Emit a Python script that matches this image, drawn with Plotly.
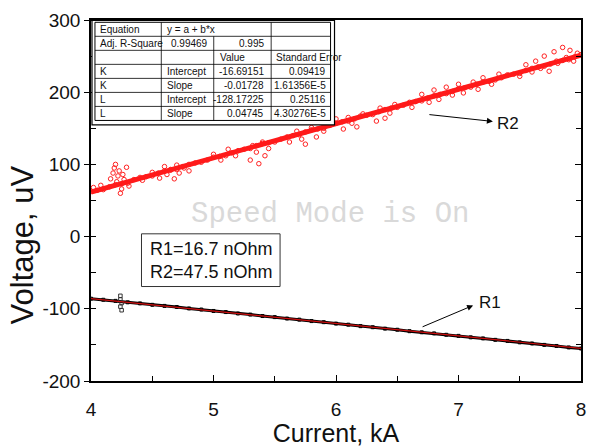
import plotly.graph_objects as go

# ---------------- data ----------------
# R2 measured points (red open circles): band points along the trend + scattered points
r2_x = [4.0, 4.1, 4.2, 4.3, 4.4, 4.5, 4.6, 4.7, 4.8, 4.9, 5.0, 5.1, 5.2, 5.3, 5.4, 5.5, 5.6, 5.7, 5.8, 5.9,
        6.0, 6.1, 6.2, 6.3, 6.4, 6.5, 6.6, 6.7, 6.8, 6.9, 7.0, 7.1, 7.2, 7.3, 7.4, 7.5, 7.6, 7.7, 7.8, 7.9, 8.0,
        4.05, 4.15, 4.25, 4.35, 4.45, 4.55, 4.65, 4.75, 4.85, 4.95, 5.05, 5.15, 5.25, 5.35, 5.45, 5.55, 5.65,
        5.75, 5.85, 5.95, 6.05, 6.15, 6.25, 6.35, 6.45, 6.55, 6.65, 6.75, 6.85, 6.95, 7.05, 7.15, 7.25, 7.35,
        7.45, 7.55, 7.65, 7.75, 7.85, 7.95,
        4.02, 4.08, 4.16, 4.18, 4.19, 4.2, 4.21, 4.22, 4.23, 4.24, 4.25, 4.26, 4.27, 4.29, 4.31,
        4.42, 4.5, 4.56, 4.6, 4.62, 4.65, 4.68, 4.7, 4.72, 4.76, 4.8,
        5.0, 5.06, 5.12, 5.18, 5.3, 5.32, 5.35, 5.37, 5.4, 5.42, 5.45,
        5.62, 5.68, 5.72, 5.75, 5.8, 5.84, 5.9,
        6.0, 6.06, 6.1, 6.13, 6.17, 6.22, 6.33, 6.36, 6.4, 6.44, 6.48,
        6.62, 6.7, 6.76, 6.8, 6.84, 6.9, 6.95, 7.0, 7.04,
        7.12, 7.16, 7.2, 7.27, 7.33,
        7.5, 7.55, 7.6, 7.63, 7.67, 7.7, 7.74, 7.78, 7.81, 7.85, 7.88, 7.91, 7.94, 7.97]
r2_y = [63, 65, 72, 74, 82, 84, 91, 93, 100, 103, 110, 112, 119, 122, 129, 131, 138, 141, 148, 150,
        157, 160, 167, 169, 176, 179, 186, 188, 195, 198, 205, 207, 214, 217, 224, 226, 233, 236, 243, 245, 252,
        64, 69, 73, 79, 83, 88, 92, 97, 102, 106, 111, 116, 121, 126, 130, 135, 140,
        145, 149, 154, 159, 163, 168, 173, 178, 182, 187, 192, 197, 201, 206, 211, 215, 220,
        225, 230, 235, 239, 244, 249,
        68, 71, 80, 88, 95, 100, 76, 84, 91, 60, 66, 86, 79, 96, 70,
        78, 89, 81, 97, 86, 93, 80, 99, 88, 95, 91,
        114, 106, 121, 112, 106, 126, 117, 101, 131, 112, 122,
        131, 146, 135, 128, 151, 138, 146,
        163, 149, 165, 157, 152, 170, 160, 178, 164, 171, 183,
        179, 197, 186, 203, 190, 207, 196, 211, 199,
        214, 204, 220, 211, 225,
        222, 238, 228, 243, 233, 250, 229, 256, 240, 262, 248, 258, 243, 254]

# R1 measured points (black)
r1_x = [4.0, 4.1, 4.2, 4.3, 4.4, 4.5, 4.6, 4.7, 4.8, 4.9, 5.0, 5.1, 5.2, 5.3, 5.4, 5.5, 5.6, 5.7, 5.8, 5.9,
        6.0, 6.1, 6.2, 6.3, 6.4, 6.5, 6.6, 6.7, 6.8, 6.9, 7.0, 7.1, 7.2, 7.3, 7.4, 7.5, 7.6, 7.7, 7.8, 7.9, 8.0]
r1_y = [-86, -87.5, -89, -91, -92.5, -94.5, -96, -97.5, -99.5, -101, -103, -104.5, -106.5, -108, -110,
        -111.5, -113.5, -115, -117, -118.5, -120.5, -122, -124, -125.5, -127.5, -129, -131, -132.5, -134,
        -136, -137.5, -139.5, -141, -143, -144.5, -146.5, -148, -150, -151.5, -153.5, -155]
r1_cluster_x = [4.24, 4.24, 4.25, 4.24, 4.25]
r1_cluster_y = [-82, -87, -92, -97, -102]

# linear fits (end points)
fit_x = [4.0, 8.0]
fit_r2_y = [61.6, 251.4]
fit_r1_y = [-85.8, -154.9]

# fit table
table_rows = [
    ["K", "Intercept", "-16.69151", "0.09419"],
    ["K", "Slope", "-0.01728", "1.61356E-5"],
    ["L", "Intercept", "-128.17225", "0.25116"],
    ["L", "Slope", "0.04745", "4.30276E-5"],
]
adj_r2 = ["0.99469", "0.995"]

x_ticks = [4, 5, 6, 7, 8]
y_ticks = [-200, -100, 0, 100, 200, 300]

# ---------------- geometry helpers (pixel -> paper) ----------------
W, H = 590, 447
L, R, T, B = 91, 586, 20, 383


def px(x):
    return (x - L) / (R - L)


def py(y):
    return (B - y) / (B - T)


FONT = "Arial, Liberation Sans, sans-serif"

fig = go.Figure()

fig.add_trace(go.Scatter(x=fit_x, y=fit_r2_y, mode="lines", yaxis="y2",
                         line=dict(color="#ff1a1a", width=5), hoverinfo="skip"))
fig.add_trace(go.Scatter(x=r2_x, y=r2_y, mode="markers",
                         marker=dict(symbol="circle-open", size=4.5, color="#ff2020",
                                     line=dict(width=1, color="#ff2020"))))
fig.add_trace(go.Scatter(x=r1_x, y=r1_y, mode="lines+markers",
                         line=dict(color="black", width=3),
                         marker=dict(symbol="square-open", size=3, color="black")))
fig.add_trace(go.Scatter(x=r1_cluster_x, y=r1_cluster_y, mode="markers",
                         marker=dict(symbol="square-open", size=3.5, color="#333333",
                                     line=dict(width=1))))
fig.add_trace(go.Scatter(x=fit_x, y=fit_r1_y, mode="lines",
                         line=dict(color="#d01010", width=1.2), hoverinfo="skip"))

shapes = []
annotations = []

# table frame
shapes.append(dict(type="rect", xref="paper", yref="paper", x0=px(92), x1=px(337),
                   y0=py(125.5), y1=py(20.5), line=dict(color="black", width=1.2),
                   fillcolor="white", layer="above"))
row_top = 22.3
row_h = 14.1
c0, c1, c2, c3, c4 = 95, 162, 215, 273, 333
rows_y = [row_top + i * row_h for i in range(8)]
shapes.append(dict(type="rect", xref="paper", yref="paper", x0=px(c0), x1=px(c4),
                   y0=py(rows_y[7]), y1=py(rows_y[0]), line=dict(color="black", width=1)))
for yy in rows_y[1:7]:
    shapes.append(dict(type="line", xref="paper", yref="paper", x0=px(c0), x1=px(c4),
                       y0=py(yy), y1=py(yy), line=dict(color="black", width=0.8)))
for cx in [c1, c3]:
    shapes.append(dict(type="line", xref="paper", yref="paper", x0=px(cx), x1=px(cx),
                       y0=py(rows_y[7]), y1=py(rows_y[0]), line=dict(color="black", width=0.8)))
shapes.append(dict(type="line", xref="paper", yref="paper", x0=px(c2), x1=px(c2),
                   y0=py(rows_y[7]), y1=py(rows_y[1]), line=dict(color="black", width=0.8)))


def cell(text, x, row, anchor="left"):
    yc = rows_y[row] + row_h / 2
    annotations.append(dict(text=text, x=px(x), y=py(yc), xref="paper", yref="paper",
                            xanchor=anchor, yanchor="middle", showarrow=False,
                            font=dict(family=FONT, size=10, color="#111")))


cell("Equation", c0 + 3, 0)
cell("y = a + b*x", c1 + 4, 0)
cell("Adj. R-Square", c0 + 3, 1)
cell(adj_r2[0], c2 - 4, 1, "right")
cell(adj_r2[1], c3 - 5, 1, "right")
cell("Value", c2 + 4, 2)
cell("Standard Error", c3 + 3, 2)
for i, r in enumerate(table_rows):
    cell(r[0], c0 + 3, 3 + i)
    cell(r[1], c1 + 4, 3 + i)
    cell(r[2], c3 - 5, 3 + i, "right")
    cell(r[3], c4 - 3, 3 + i, "right")

# R1/R2 text box
shapes.append(dict(type="rect", xref="paper", yref="paper", x0=px(142), x1=px(282),
                   y0=py(288), y1=py(235), line=dict(color="#333", width=1), fillcolor="white"))
annotations.append(dict(text="R1=16.7 nOhm<br>R2=47.5 nOhm", x=px(149), y=py(261.5),
                        xref="paper", yref="paper", xanchor="left", yanchor="middle",
                        align="left", showarrow=False,
                        font=dict(family=FONT, size=18, color="#111")))

# watermark
annotations.append(dict(text="Speed Mode is On", x=px(332), y=py(216), xref="paper", yref="paper",
                        xanchor="center", yanchor="middle", showarrow=False,
                        font=dict(family="Liberation Mono, Courier New, monospace", size=29,
                                  color="#d9d9d9")))

# arrows and labels
annotations.append(dict(text="", x=px(497), y=py(122), xref="paper", yref="paper",
                        ax=-65, ay=-7, showarrow=True, arrowhead=2, arrowsize=1.2,
                        arrowwidth=1, arrowcolor="black"))
annotations.append(dict(text="R2", x=px(499), y=py(124), xref="paper", yref="paper",
                        xanchor="left", yanchor="middle", showarrow=False,
                        font=dict(family=FONT, size=17, color="#111")))
annotations.append(dict(text="", x=px(477), y=py(307), xref="paper", yref="paper",
                        ax=-52, ay=22, showarrow=True, arrowhead=2, arrowsize=1.2,
                        arrowwidth=1, arrowcolor="black"))
annotations.append(dict(text="R1", x=px(481), y=py(304), xref="paper", yref="paper",
                        xanchor="left", yanchor="middle", showarrow=False,
                        font=dict(family=FONT, size=17, color="#111")))

# y axis title (placed as rotated text)
annotations.append(dict(text="Voltage, uV", x=px(22), y=py(246), xref="paper", yref="paper",
                        xanchor="center", yanchor="middle", textangle=-90, showarrow=False,
                        font=dict(family=FONT, size=31, color="#111")))

fig.update_layout(
    width=W, height=H,
    margin=dict(l=L, r=W - R, t=T, b=H - B, pad=0),
    paper_bgcolor="white", plot_bgcolor="white",
    showlegend=False,
    shapes=shapes, annotations=annotations,
    xaxis=dict(range=[4, 8], tickvals=x_ticks, ticktext=[str(v) for v in x_ticks],
               ticks="inside", ticklen=6, tickwidth=1.2, tickcolor="black",
               minor=dict(dtick=0.5, tick0=4, ticks="inside", ticklen=5, tickwidth=1.2,
                          tickcolor="black", showgrid=False),
               showline=True, linecolor="black", linewidth=1.5, mirror=True,
               showgrid=False, zeroline=False, ticklabelstandoff=10,
               tickfont=dict(family=FONT, size=19, color="#111"),
               title=dict(text="Current, kA", font=dict(family=FONT, size=25, color="#111"),
                          standoff=6)),
    yaxis=dict(range=[-200, 300], tickvals=y_ticks, ticktext=[str(v) for v in y_ticks],
               ticks="outside", ticklen=5, tickwidth=1.2, tickcolor="black",
               minor=dict(dtick=50, tick0=0, ticks="inside", ticklen=5, tickwidth=1.2,
                          tickcolor="black", showgrid=False),
               showline=True, linecolor="black", linewidth=1.5, mirror=True,
               showgrid=False, zeroline=False,
               tickfont=dict(family=FONT, size=19, color="#111")),
    yaxis2=dict(range=[-200, 300], overlaying="y", side="right", tickvals=y_ticks,
                ticks="inside", ticklen=6, tickwidth=1.2, tickcolor="black",
                minor=dict(dtick=50, tick0=0, ticks="inside", ticklen=5, tickwidth=1.2,
                           tickcolor="black", showgrid=False),
                showticklabels=False, showline=False, showgrid=False, zeroline=False),
)

fig.write_html("out.html")
